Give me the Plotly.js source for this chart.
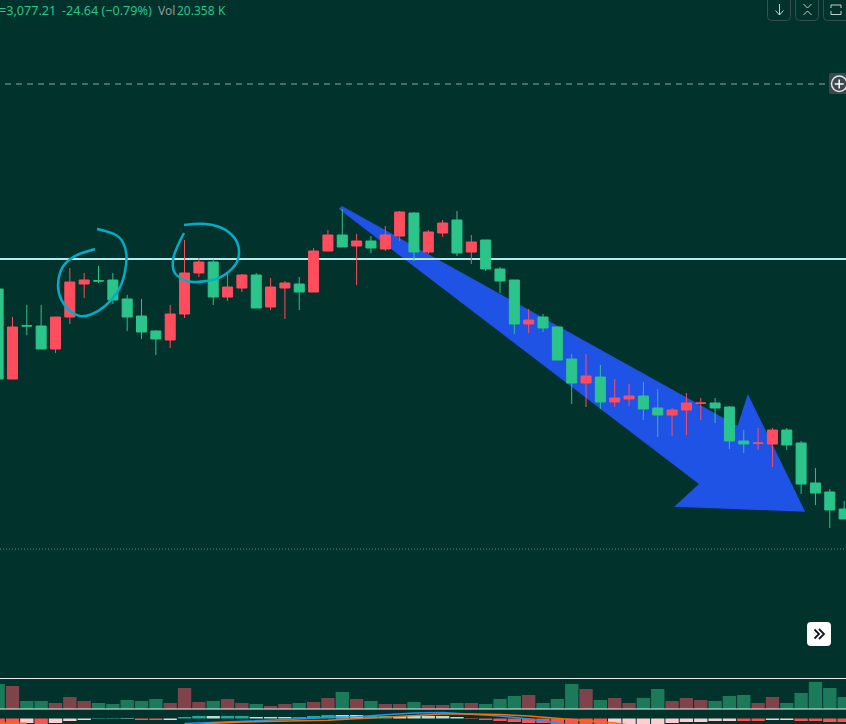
<!DOCTYPE html>
<html>
<head>
<meta charset="utf-8">
<script src="https://cdn.plot.ly/plotly-3.0.1.min.js"></script>
<style>
  html, body { margin: 0; padding: 0; background: #02322c; overflow: hidden; }
</style>
</head>
<body>
<div id="chart" style="width:846px;height:724px"></div>
<script>
// values, one entry per bar
const open = [3307,3217,3270.2,3270,3247,3279,3312,3315.2,3316,3297,3280,3265,3256,3282,3323,3334,3299,3308,3321,3289,
  3308,3312,3304,3345,3361,3350,3355,3347,3360,3383,3344,3363,3376,3344,3356,3327,3316,3272,3279,3269,
  3237,3213,3219,3194,3197,3200,3188,3181,3186,3192.8,3193,3189,3155,3152.8,3152,3166,3153,3113,3104,3087];
const high = [3307,3279,3291,3291,3279,3328,3323,3330,3323,3301,3297,3266,3291,3356,3338,3337,3322,3322,3323,3318,
  3315,3319,3348,3366,3387,3362,3360,3370,3385,3384,3366,3376,3385,3361,3356,3329,3316,3287,3282,3269,
  3242,3242,3231,3217,3212,3214,3207,3188,3203,3198,3198,3190,3166,3168,3168,3168,3155,3128,3107,3095];
const low = [3217,3217,3261,3247,3243,3272,3298,3313,3292,3265,3257,3241,3248,3278,3319,3291,3295,3304,3288,3286,
  3277,3286,3304,3345,3349,3311,3343,3345,3355,3335,3342,3359,3340,3332,3325,3303,3262,3263,3264,3236,
  3192,3189,3187,3189,3190,3176,3159,3160,3161,3176,3173,3147,3143,3146,3129,3146,3102,3091,3068,3077];
const close = [3217,3269,3270,3247,3279,3314,3316,3315,3296,3279,3264,3257,3282,3323,3334,3299,3309,3321,3288,3309,
  3313,3304,3345,3361,3349,3355,3348,3361,3384,3344,3364,3373,3343,3354,3327,3315,3272,3276,3268,3236,
  3213,3220,3194,3198,3200,3187,3181,3186,3193,3193,3188,3155,3152,3153,3166,3151,3112,3103,3086,3077];
const volume = [42.5,39.1,13.6,13.6,10.2,20.4,13.6,10.2,8.5,15.3,13.6,17,10.2,35.7,11.9,13.6,17,10.2,8.5,5.1,
  8.5,10.2,11.9,18.7,28.9,17,13.6,8.5,8.5,11.9,6.8,6.8,10.2,10.2,8.5,17,22.1,23.8,10.2,17,
  42.5,34,15.3,18.7,10.2,18.7,34,13.6,18.7,15.3,13.6,22.1,23.8,10.2,20.4,10.2,27.2,45.9,35.7,20.358];
const macdHist = [-7.5,-7.5,-4.5,-7.5,-4.5,-2.5,-1.5,0.5,0.5,0.5,-1.5,-1.5,-1.5,1.5,2.5,2.5,2.5,2.5,1.5,1.5,
  1.5,1.5,2.5,3.5,3.5,3.5,2.5,2.5,2.5,2.5,2.5,2.5,1.5,0.5,-1.5,-2.5,-3.5,-4.5,-4.5,-7.5,
  -7.5,-7.5,-7.5,-7.5,-7.5,-7.5,-7.5,-4.5,-3.5,-3.5,-2.5,-2.5,-2.5,-2.5,-1.5,-1.5,-2.5,-2.5,-3.5,-3.5];
const macdTone = "rrprpppttlrrpttlttllltttllttlllllrrrrrrrrrrppppppppprrpprrrr".split("").slice(0, 60);
const macdLineX = [13,15,17,19,21,23,25,27,29,31,33,35,37,39,40];
const macdLine = [-5,-4,-3,-1.5,-0.5,1.2,1.8,3.8,5.5,6,4.5,2.5,-0.5,-4.5,-6.5];
const signalLineX = [0,1,2,3,14,15,17,19,21,23,25,27,29,31,33,35,37,39,41,43,44];
const signalLine = [-4.5,-4.5,-4.7,null,-6,-4.8,-3.5,-3.2,-2.3,-1.7,-0.2,1.5,3.5,4.5,4.5,4,2.5,0.2,-2,-4.5,-6.5];
const levelDashed = 3512;
const levelDotted = 3047;
const levelDrawn = 3337;

const UP = "#ff4d5e";   // this chart shows rising bars in red
const DOWN = "#2bc48a";
const BG = "#02322c";
const toneColors = { r: "#ff5252", p: "#ffcdd2", t: "#26a69a", l: "#b2dfdb" };

const W = 846, H = 724;
const bars = open.map((_, i) => i);

const px = (x) => x / W;
const py = (y) => 1 - y / H;

// drawing tools on the screenshot, given in screen pixels
function polyPath(points, closed) {
  const d = points.map((p, i) => `${i ? "L" : "M"}${px(p[0])},${py(p[1])}`).join(" ");
  return closed ? d + " Z" : d;
}

function smoothPath(points) {
  let d = `M${px(points[0][0])},${py(points[0][1])}`;
  for (let i = 1; i < points.length - 1; i++) {
    const mx = (points[i][0] + points[i + 1][0]) / 2;
    const my = (points[i][1] + points[i + 1][1]) / 2;
    d += ` Q${px(points[i][0])},${py(points[i][1])} ${px(mx)},${py(my)}`;
  }
  const last = points[points.length - 1];
  return d + ` L${px(last[0])},${py(last[1])}`;
}

function roundRect(x0, y0, x1, y1, r) {
  const P = (x, y) => `${px(x)},${py(y)}`;
  return `M${P(x0 + r, y0)} L${P(x1 - r, y0)} Q${P(x1, y0)} ${P(x1, y0 + r)} L${P(x1, y1 - r)} Q${P(x1, y1)} ${P(x1 - r, y1)} ` +
    `L${P(x0 + r, y1)} Q${P(x0, y1)} ${P(x0, y1 - r)} L${P(x0, y0 + r)} Q${P(x0, y0)} ${P(x0 + r, y0)} Z`;
}

const pathShape = (path, color, width, fill, layer) => ({
  type: "path", xref: "paper", yref: "paper", path: path,
  line: { color: color, width: width },
  fillcolor: fill || "rgba(0,0,0,0)",
  layer: layer || "above",
});

const arrow = [[342,207],[738,427],[748,396],[804,511],[676,506],[700,484],[340,209]];
const loopLeft = [[97,229],[110,232],[120,237],[126,248],[127,263],[122,285],[112,300],[98,312],[84,317],[75,315],[65,307],[58,293],[58,278],[63,265],[75,255],[95,249]];
const loopRight = [[184,233],[175,250],[172,265],[175,275],[187,282],[200,282],[220,279],[237,265],[240,250],[235,237],[222,227],[203,223],[184,225]];

const shapes = [
  pathShape(polyPath(arrow, true), "#1f53e5", 1.5, "#1f53e5", "below"),
  pathShape(smoothPath(loopLeft), "#00aeca", 2.5),
  pathShape(smoothPath(loopRight), "#00aeca", 2.5),
  { type: "line", xref: "paper", yref: "y", x0: 0, x1: 1, y0: levelDrawn, y1: levelDrawn, layer: "below", line: { color: "#b2ebf2", width: 2 } },
  { type: "line", xref: "paper", yref: "y", x0: px(5), x1: px(829), y0: levelDashed, y1: levelDashed, line: { color: "#93a5a1", width: 1, dash: "6px,5px" } },
  { type: "line", xref: "paper", yref: "y", x0: 0, x1: 1, y0: levelDotted, y1: levelDotted, line: { color: "#72857f", width: 1, dash: "1px,2px" } },
  // pane separators
  { type: "line", xref: "paper", yref: "paper", x0: 0, x1: 1, y0: py(678.5), y1: py(678.5), line: { color: "#e8eeee", width: 1 } },
  { type: "line", xref: "paper", yref: "paper", x0: 0, x1: 1, y0: py(709), y1: py(709), line: { color: "#e8eeee", width: 1 } },
  // top right buttons
  pathShape(roundRect(767.5, -6, 790.5, 20.5, 4), "#3a4c50", 1),
  pathShape(roundRect(795.5, -6, 818.5, 20.5, 4), "#3a4c50", 1),
  pathShape(roundRect(823.5, -6, 850, 20.5, 4), "#3a4c50", 1),
  pathShape(polyPath([[779.5,4],[779.5,15]]), "#c4cfcd", 1),
  pathShape(polyPath([[775.5,10.5],[779.5,15],[783.5,10.5]]), "#c4cfcd", 1),
  pathShape(polyPath([[803.5,4],[807.5,8],[811.5,4]]), "#c4cfcd", 1),
  pathShape(polyPath([[803.5,15],[807.5,11],[811.5,15]]), "#c4cfcd", 1),
  pathShape(polyPath([[831,8],[831,5],[841,5],[841,8]]), "#c4cfcd", 1),
  pathShape(polyPath([[831,11],[831,14.5],[841,14.5],[841,11]]), "#c4cfcd", 1),
  // crosshair plus button
  pathShape(roundRect(829, 73, 850, 94, 2), "#3c4850", 0, "#3c4850"),
  { type: "circle", xref: "paper", yref: "paper", x0: px(831.5), x1: px(847), y0: py(91.5), y1: py(76), line: { color: "#dfe5e4", width: 1.5 }, fillcolor: "#3c4850" },
  pathShape(polyPath([[839.2,79.5],[839.2,88.5]]), "#ffffff", 1.5),
  pathShape(polyPath([[834.7,84],[843.7,84]]), "#ffffff", 1.5),
  // scroll button
  pathShape(roundRect(807, 622, 831, 646, 4), "#ffffff", 0, "#ffffff"),
  pathShape(polyPath([[814.5,629.5],[819,634],[814.5,638.5]]), "#131722", 1.8),
  pathShape(polyPath([[819,629],[824,634],[819,639]]), "#131722", 1.8),
];

const headerFont = "'Noto Sans', 'Open Sans', sans-serif";
const headerText = (x, text, color, size) => ({
  xref: "paper", yref: "paper", x: px(x), y: py(10), xanchor: "left", yanchor: "middle",
  text: text, showarrow: false, font: { family: headerFont, size: size || 12, color: color },
  borderpad: 0, borderwidth: 0,
});

const annotations = [
  headerText(-1, "=3,077.21", DOWN, 12.6),
  headerText(62, "-24.64 (−0.79%)", DOWN, 12.6),
  headerText(158, "Vol", "#8d9b98"),
  headerText(177, "20.358", DOWN),
  headerText(218, "K", DOWN),
];

const traces = [
  {
    type: "candlestick",
    x: bars, open: open, high: high, low: low, close: close,
    increasing: { line: { color: UP, width: 1 }, fillcolor: UP },
    decreasing: { line: { color: DOWN, width: 1 }, fillcolor: DOWN },
    whiskerwidth: 0,
    yaxis: "y",
    showlegend: false,
  },
  {
    type: "bar",
    x: bars, y: volume,
    marker: { color: close.map((c, i) => (c >= open[i] ? "#7f444a" : "#1a7a5a")), line: { width: 0 } },
    yaxis: "y2",
    showlegend: false,
  },
  {
    type: "bar",
    x: bars, y: macdHist,
    marker: { color: macdTone.map((t) => toneColors[t]), line: { width: 0 } },
    yaxis: "y3",
    showlegend: false,
  },
  {
    type: "scatter", mode: "lines",
    x: macdLineX, y: macdLine,
    line: { color: "#2196f3", width: 1.5 },
    yaxis: "y3",
    showlegend: false,
  },
  {
    type: "scatter", mode: "lines",
    x: signalLineX, y: signalLine,
    line: { color: "#ff6d00", width: 1.5 },
    yaxis: "y3",
    showlegend: false,
  },
];

const hiddenAxis = { visible: false, showgrid: false, zeroline: false, fixedrange: true };

const layout = {
  width: W,
  height: H,
  margin: { l: 0, r: 0, t: 0, b: 0 },
  paper_bgcolor: BG,
  plot_bgcolor: "rgba(0,0,0,0)",
  showlegend: false,
  bargap: 0.07,
  boxgap: 0.3,
  boxgroupgap: 0,
  xaxis: { ...hiddenAxis, range: [0.13, 59.13], rangeslider: { visible: false }, anchor: "y3" },
  yaxis: { ...hiddenAxis, domain: [46 / H, 1], range: [2918, 3596], anchor: "x" },
  yaxis2: { ...hiddenAxis, domain: [15 / H, 45 / H], range: [0, 51], anchor: "x" },
  yaxis3: { ...hiddenAxis, domain: [0, 14.5 / H], range: [-5.5, 9], anchor: "x" },
  shapes: shapes,
  annotations: annotations,
};

Plotly.newPlot("chart", traces, layout, { displayModeBar: false, staticPlot: true });
</script>
</body>
</html>
